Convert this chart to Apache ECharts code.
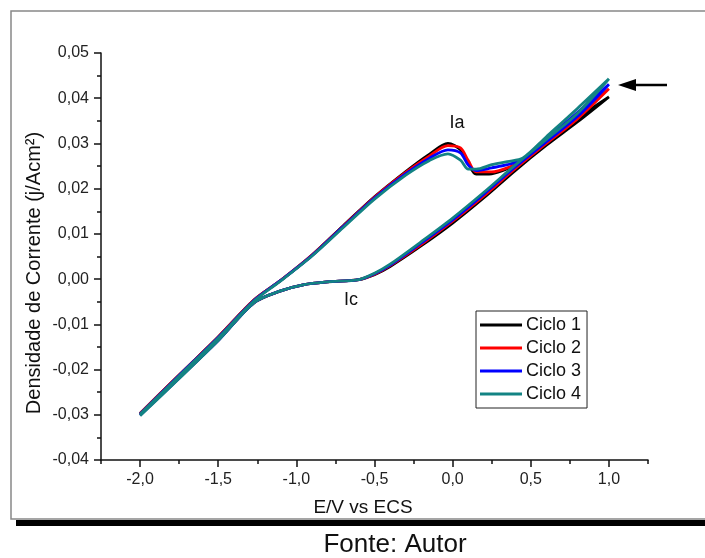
<!DOCTYPE html>
<html>
<head>
<meta charset="utf-8">
<script src="https://cdn.jsdelivr.net/npm/echarts@6/dist/echarts.min.js"></script>
<style>
  html, body { margin: 0; padding: 0; background: #fff; }
  #chart { width: 705px; height: 558px; }
</style>
</head>
<body>
<div id="chart"></div>
<script>
// potencial (V vs ECS): varredura direta -2,0 -> 1,0 e volta 1,0 -> -2,0
var potencial = [-2.0, -1.75, -1.5, -1.27, -1.1, -0.9, -0.7, -0.5, -0.3, -0.15, -0.03, 0.05, 0.1, 0.15, 0.25, 0.35, 0.45, 0.6, 0.8, 1.0,
                 0.8, 0.6, 0.4, 0.2, 0.0, -0.2, -0.4, -0.5, -0.6, -0.8, -0.95, -1.1, -1.27, -1.5, -1.75, -2.0];

// densidade de corrente (A/cm2) de cada ciclo
var ciclo1 = [-0.0297, -0.0212, -0.0128, -0.0046, -0.0003, 0.0053, 0.0118, 0.0182, 0.0238, 0.0276, 0.0300, 0.0286, 0.0256, 0.0232, 0.0233, 0.0244, 0.0262, 0.0303, 0.0356, 0.0403,
              0.0348, 0.0296, 0.0240, 0.0180, 0.0124, 0.0074, 0.0028, 0.0010, -0.0001, -0.0006, -0.0012, -0.0026, -0.0052, -0.0135, -0.0218, -0.0300];
var ciclo2 = [-0.0297, -0.0212, -0.0128, -0.0046, -0.0003, 0.0053, 0.0117, 0.0181, 0.0236, 0.0272, 0.0295, 0.0290, 0.0262, 0.0237, 0.0237, 0.0246, 0.0263, 0.0306, 0.0363, 0.0421,
              0.0355, 0.0300, 0.0244, 0.0184, 0.0128, 0.0077, 0.0030, 0.0011, -0.0001, -0.0006, -0.0012, -0.0026, -0.0052, -0.0135, -0.0218, -0.0300];
var ciclo3 = [-0.0298, -0.0213, -0.0129, -0.0047, -0.0003, 0.0052, 0.0116, 0.0179, 0.0233, 0.0267, 0.0286, 0.0279, 0.0252, 0.0240, 0.0246, 0.0253, 0.0265, 0.0310, 0.0369, 0.0431,
              0.0360, 0.0304, 0.0248, 0.0188, 0.0131, 0.0080, 0.0031, 0.0012, -0.0001, -0.0006, -0.0012, -0.0026, -0.0052, -0.0136, -0.0219, -0.0301];
var ciclo4 = [-0.0299, -0.0214, -0.0130, -0.0048, -0.0004, 0.0051, 0.0114, 0.0177, 0.0230, 0.0262, 0.0277, 0.0263, 0.0243, 0.0243, 0.0253, 0.0260, 0.0268, 0.0315, 0.0378, 0.0443,
              0.0367, 0.0309, 0.0252, 0.0192, 0.0135, 0.0083, 0.0033, 0.0013, -0.0001, -0.0006, -0.0012, -0.0026, -0.0052, -0.0136, -0.0220, -0.0302];

var nomes = ['Ciclo 1', 'Ciclo 2', 'Ciclo 3', 'Ciclo 4'];
var cores = ['#000000', '#ff0000', '#0000ff', '#138383'];
var ciclos = [ciclo1, ciclo2, ciclo3, ciclo4];

var ticksX = [-2.0, -1.5, -1.0, -0.5, 0.0, 0.5, 1.0];

var fonte = 'Liberation Sans, Arial, sans-serif';

function pares(ys) {
    return potencial.map(function (e, i) { return [e, ys[i]]; });
}

var myChart = echarts.init(document.getElementById('chart'));

var option = {
    animation: false,
    textStyle: { fontFamily: fonte },
    grid: { left: 101, right: 57, top: 53, bottom: 98 },
    legend: {
        orient: 'vertical',
        left: 476,
        top: 311,
        data: nomes,
        icon: 'rect',
        itemWidth: 42,
        itemHeight: 3,
        itemGap: 5,
        padding: [5, 6, 5, 4],
        borderColor: '#222',
        borderWidth: 1,
        textStyle: { fontFamily: fonte, fontSize: 18, color: '#111', lineHeight: 18, padding: [0, 0, 0, -1] }
    },
    xAxis: [{
        type: 'value',
        min: -2.25,
        max: 1.25,
        interval: 0.25,
        axisLine: { onZero: false, lineStyle: { color: '#111', width: 1.5 } },
        axisTick: { length: 4, lineStyle: { color: '#111', width: 1.5 } },
        axisLabel: {
            customValues: ticksX,
            margin: 12,
            fontSize: 16,
            color: '#222',
            formatter: function (v) { return v.toFixed(1).replace('.', ','); }
        },
        splitLine: { show: false }
    }, {
        type: 'value',
        min: -2.25,
        max: 1.25,
        interval: 0.25,
        position: 'bottom',
        axisLine: { show: false, onZero: false },
        axisTick: { customValues: ticksX, length: 7, lineStyle: { color: '#111', width: 1.5 } },
        axisLabel: { show: false },
        splitLine: { show: false }
    }],
    yAxis: {
        type: 'value',
        min: -0.04,
        max: 0.05,
        interval: 0.01,
        axisLine: { show: true, onZero: false, lineStyle: { color: '#111', width: 1.5 } },
        axisTick: { show: true, length: 7, lineStyle: { color: '#111', width: 1.5 } },
        minorTick: { show: true, splitNumber: 2, length: 4, lineStyle: { color: '#111', width: 1.5 } },
        axisLabel: {
            margin: 12,
            fontSize: 16,
            color: '#222',
            formatter: function (v) { return v.toFixed(2).replace('.', ','); }
        },
        splitLine: { show: false }
    },
    series: ciclos.map(function (ys, i) {
        return {
            name: nomes[i],
            type: 'line',
            xAxisIndex: 0,
            data: pares(ys),
            showSymbol: false,
            smooth: 0.3,
            color: cores[i],
            lineStyle: { color: cores[i], width: 2.8 }
        };
    }),
    graphic: [
        // moldura
        { type: 'rect', shape: { x: 11, y: 11, width: 700, height: 508 }, style: { fill: 'none', stroke: '#888', lineWidth: 1.5 }, z: -1 },
        { type: 'rect', shape: { x: 16, y: 520, width: 700, height: 6 }, style: { fill: '#000' } },
        // títulos
        { type: 'text', x: 363, y: 508, style: { text: 'E/V vs ECS', font: '19px ' + fonte, fill: '#111', align: 'center', verticalAlign: 'middle' } },
        { type: 'text', x: 34, y: 273, rotation: Math.PI / 2, style: { text: 'Densidade de Corrente (j/Acm²)', font: '20px ' + fonte, fill: '#111', align: 'center', verticalAlign: 'middle' } },
        { type: 'text', x: 395, y: 545, style: { text: 'Fonte: Autor', font: '26px ' + fonte, fill: '#111', align: 'center', verticalAlign: 'middle' } },
        // picos
        { type: 'text', x: 457, y: 123, style: { text: 'Ia', font: '18px ' + fonte, fill: '#111', align: 'center', verticalAlign: 'middle' } },
        { type: 'text', x: 351, y: 300, style: { text: 'Ic', font: '18px ' + fonte, fill: '#111', align: 'center', verticalAlign: 'middle' } },
        // seta
        { type: 'line', shape: { x1: 632, y1: 85, x2: 667, y2: 85 }, style: { stroke: '#000', lineWidth: 2.5 } },
        { type: 'polygon', shape: { points: [[618, 85], [636, 79], [636, 91]] }, style: { fill: '#000' } }
    ]
};

myChart.setOption(option);
</script>
</body>
</html>
